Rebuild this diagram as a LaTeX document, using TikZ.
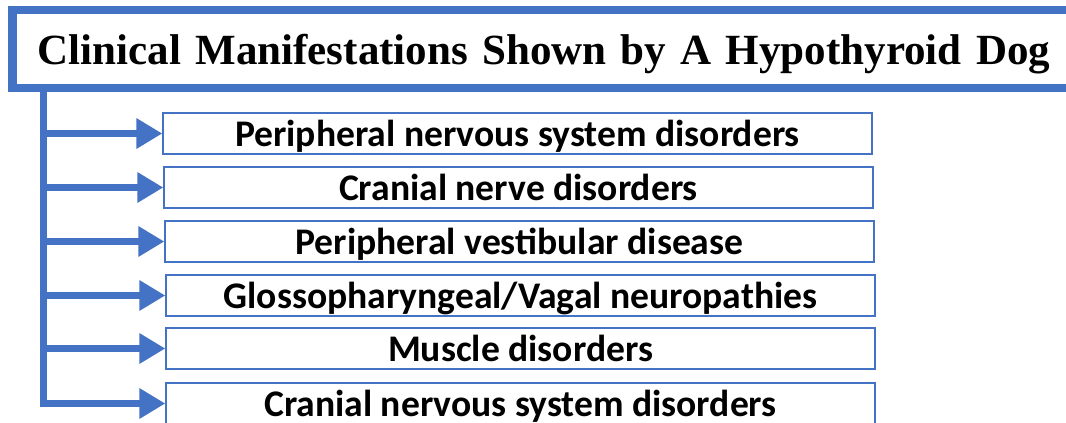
\documentclass[tikz,border=0pt]{standalone}
\usepackage{fontspec}
\setmainfont{Liberation Serif}
\newfontfamily\boxfont{Carlito}
\usetikzlibrary{arrows.meta,positioning,calc}
\definecolor{ofblue}{HTML}{4472C4}
\tikzset{>=Stealth}
\newcommand\headfont{\bfseries\fontsize{24.5}{28}\selectfont\spaceskip=0.33em\relax}

\begin{document}
\begin{tikzpicture}[x=0.02cm, y=-0.02cm,
    headbox/.style={draw=ofblue, line width=5.1pt, fill=white, font=\headfont,
      minimum width=21.26cm, minimum height=1.56cm, inner sep=0pt, text depth=0pt},
    sign/.style={draw=ofblue, line width=0.85pt, font=\boxfont\bfseries\fontsize{21.4}{24}\selectfont,
      minimum width=14.18cm, minimum height=0.82cm, inner sep=0pt, text depth=0pt},
    branch/.style={draw=ofblue, line width=4.5pt, -{Triangle[length=14.7pt, width=16.4pt]}},
    spine/.style={draw=ofblue, line width=4pt}
  ]
    \clip (0,0) rectangle (1066,423);
    \node[headbox] (title) at (544,49) {Clinical Manifestations Shown by A Hypothyroid Dog};
    \coordinate (root) at (43.5,92);

    \node[sign] (m1) at (517.5,133.5) {Peripheral nervous system disorders};
    \node[sign] (m2) at (518.5,187.5) {Cranial nerve disorders};
    \node[sign] (m3) at (519.5,241.5) {Peripheral vestibular disease};
    \node[sign] (m4) at (520.5,295.5) {Glossopharyngeal/Vagal neuropathies};
    \node[sign] (m5) at (520.5,348.5) {Muscle disorders};
    \node[sign] (m6) at (520.5,403.5) {Cranial nervous system disorders};

    \draw[spine] (root) -- ($(root |- m6.west)+(0,3)$);
    \foreach \n in {m1,m2,m3,m4,m5,m6} \draw[branch] (root |- \n.west) -- (\n.west);
  \end{tikzpicture}
\end{document}
